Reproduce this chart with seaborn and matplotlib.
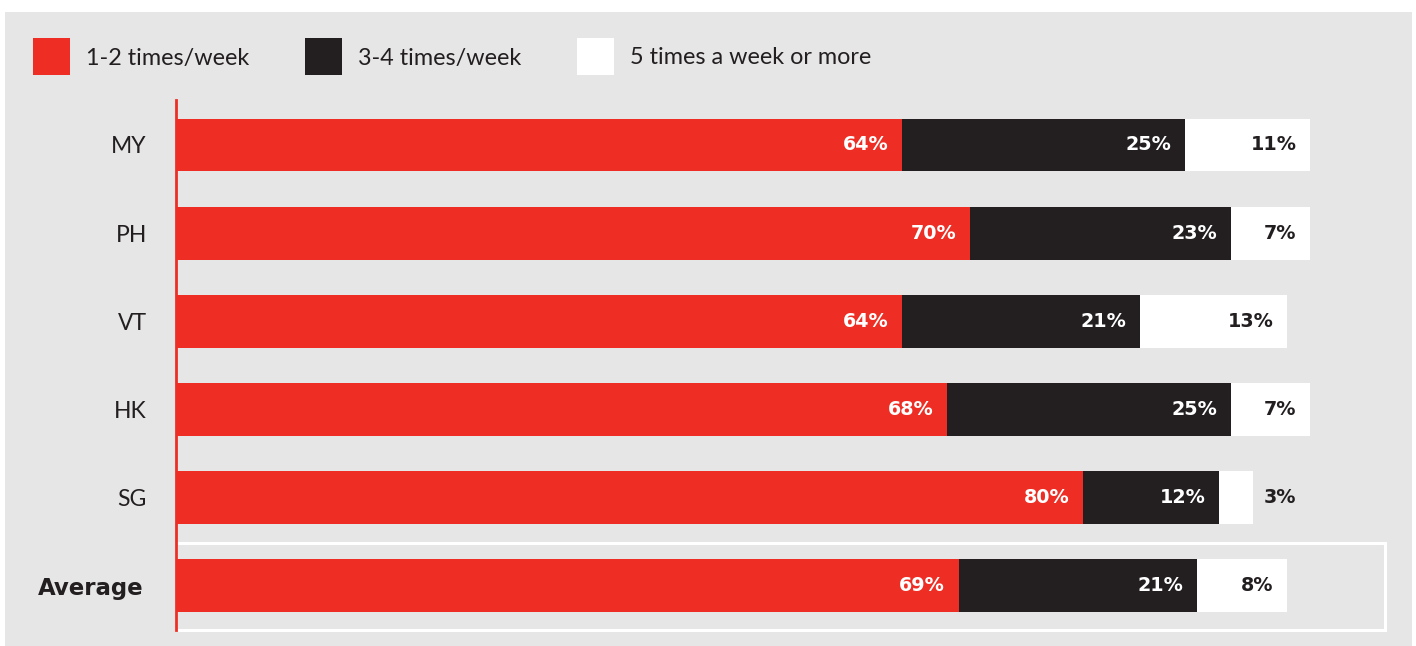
import numpy as np
import pandas as pd
import matplotlib
matplotlib.use("Agg")
import matplotlib.pyplot as plt
from matplotlib.patches import Rectangle
import seaborn as sns

# Share of respondents by frequency, per market
markets = ["MY", "PH", "VT", "HK", "SG", "Average"]
freq_1_2 = [64, 70, 64, 68, 80, 69]
freq_3_4 = [25, 23, 21, 25, 12, 21]
freq_5_plus = [11, 7, 13, 7, 3, 8]
series_names = ["1-2 times/week", "3-4 times/week", "5 times a week or more"]

RED = "#EE2E24"
BLACK = "#231F20"
WHITE = "#FFFFFF"
PANEL = "#E6E6E6"
TEXT = "#231F20"
BOLD_FONT = ["DejaVu Sans"]

sns.set_theme(style="white")
plt.rcParams["font.family"] = ["Lato", "DejaVu Sans"]

df = pd.DataFrame({
    "market": markets,
    "a": freq_1_2,
    "b": freq_3_4,
    "c": freq_5_plus,
})
df["cum_a"] = df["a"]
df["cum_b"] = df["a"] + df["b"]
df["cum_c"] = df["a"] + df["b"] + df["c"]

W, H = 1416, 646
fig = plt.figure(figsize=(W / 100, H / 100), dpi=100, facecolor="white")

# grey panel behind everything
fig.patches.append(Rectangle((5 / W, 0), (1412 - 5) / W, (646 - 12) / H,
                             transform=fig.transFigure, facecolor=PANEL,
                             edgecolor="none", zorder=-5))

ax = fig.add_axes([176 / W, 1 - 630 / H, (1385 - 176) / W, 530 / H])
ax.set_facecolor("none")
ax.set_zorder(1)

# stacked bars: draw cumulative totals back-to-front
for col, color in [("cum_c", WHITE), ("cum_b", BLACK), ("cum_a", RED)]:
    sns.barplot(data=df, y="market", x=col, orient="h", color=color,
                width=0.6, saturation=1, edgecolor="none", linewidth=0, ax=ax)

ax.set_xlim(0, 106.6)
ax.set_ylim(5.5, -0.51)

# value labels
for i, row in df.iterrows():
    segs = [(row["a"], row["cum_a"], WHITE),
            (row["b"], row["cum_b"], WHITE),
            (row["c"], row["cum_c"], TEXT)]
    for val, end, tc in segs:
        if val < 5:
            ax.text(end + 0.9, i, f"{val}%", ha="left", va="center",
                    fontsize=13.8, fontweight="bold", family=BOLD_FONT, color=TEXT)
        else:
            ax.text(end - 1.2, i, f"{val}%", ha="right", va="center",
                    fontsize=13.8, fontweight="bold", family=BOLD_FONT, color=tc)

# outline around the average row
ax.add_patch(Rectangle((0, 4.51), 106.6, 0.99, facecolor="none",
                       edgecolor=WHITE, linewidth=2.2, clip_on=False, zorder=0.5))

# axes styling
for side in ["top", "right", "bottom"]:
    ax.spines[side].set_visible(False)
ax.spines["left"].set_color(RED)
ax.spines["left"].set_linewidth(2)
ax.spines["left"].set_zorder(5)
ax.set_xticks([])
ax.set_xlabel("")
ax.set_ylabel("")
ax.tick_params(axis="y", length=0, pad=21, labelsize=16.5, labelcolor=TEXT)
for lbl in ax.get_yticklabels():
    if lbl.get_text() == "Average":
        lbl.set_fontweight("bold")
        lbl.set_family(BOLD_FONT)
        lbl.set_fontsize(16.5)
        lbl.set_x(-0.003)

# legend row
legend_x = [33, 305, 577]
for x0, name, color in zip(legend_x, series_names, [RED, BLACK, WHITE]):
    fig.patches.append(Rectangle((x0 / W, 1 - 75 / H), 37 / W, 37 / H,
                                 transform=fig.transFigure, facecolor=color,
                                 edgecolor="none", zorder=2))
    fig.text((x0 + 53) / W, 1 - 58 / H, name, ha="left", va="center",
             fontsize=16.8, color=TEXT)

fig.savefig("out.png", dpi=100, facecolor="white")
